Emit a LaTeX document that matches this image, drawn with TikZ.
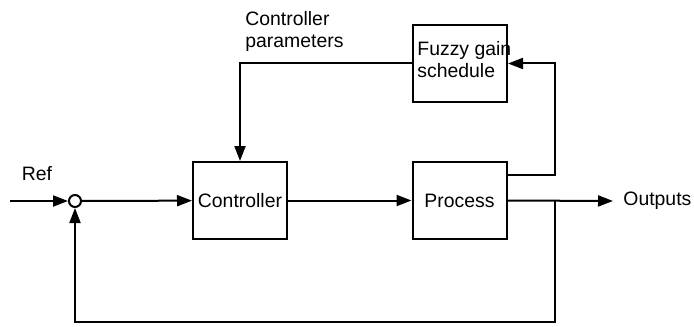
\documentclass[tikz,border=0pt]{standalone}
\usepackage{fontspec}
\setmainfont{Liberation Sans}
\usetikzlibrary{arrows.meta}
\tikzset{
  blk/.style={draw,line width=1pt,minimum width=47pt,minimum height=38.5pt,inner sep=0pt,font=\fontsize{9.7}{10.8}\selectfont},
  sig/.style={draw,line width=1pt,-{Triangle[length=7.5pt,width=5.5pt]}},
  lbl/.style={inner sep=0pt,font=\fontsize{9.7}{10.8}\selectfont,align=left}
}
\begin{document}
\begin{tikzpicture}[x=0.5pt,y=-0.5pt]
  \useasboundingbox (0,0) rectangle (694,326);
  %\draw[help lines] (0,0) grid (694,326);
  \node[blk] (ctrl) at (240,200.5) {Controller};
  \node[blk] (proc) at (459.5,200.5) {Process};
  \node[blk] (fuzzy) at (460,63.5) {};
  \node[lbl,anchor=north west] (fuzzytxt) at (417,41) {Fuzzy gain\\schedule};
  \node[circle,draw,line width=1pt,minimum size=6pt,inner sep=0pt] (sum) at (75,201) {};
  \node[lbl] (ref) at (37,174) {Ref};
  \node[lbl,anchor=north west] (cpar) at (245,11) {Controller\\parameters};
  \node[lbl,anchor=west,inner xsep=5pt] (out) at (613,201) {Outputs};
  \coordinate (in) at (10,201);
  \coordinate (tap) at (555,201);
  \coordinate (bot) at (555,322);
  \coordinate (ptap) at (506,175);
  % forward path
  \path[sig] (in)--(sum);
  \path[sig] (sum)--(ctrl);
  \path[sig] (ctrl)--(proc);
  \path[sig] (proc.east)--(out.west);
  % feedback and scheduling
  \path[sig] (tap)--(bot)-|(sum.south);
  \path[sig] (ptap)--(555,175)|-(fuzzy.east);
  \path[sig] (fuzzy.west)-|(ctrl.north);
\end{tikzpicture}
\end{document}
